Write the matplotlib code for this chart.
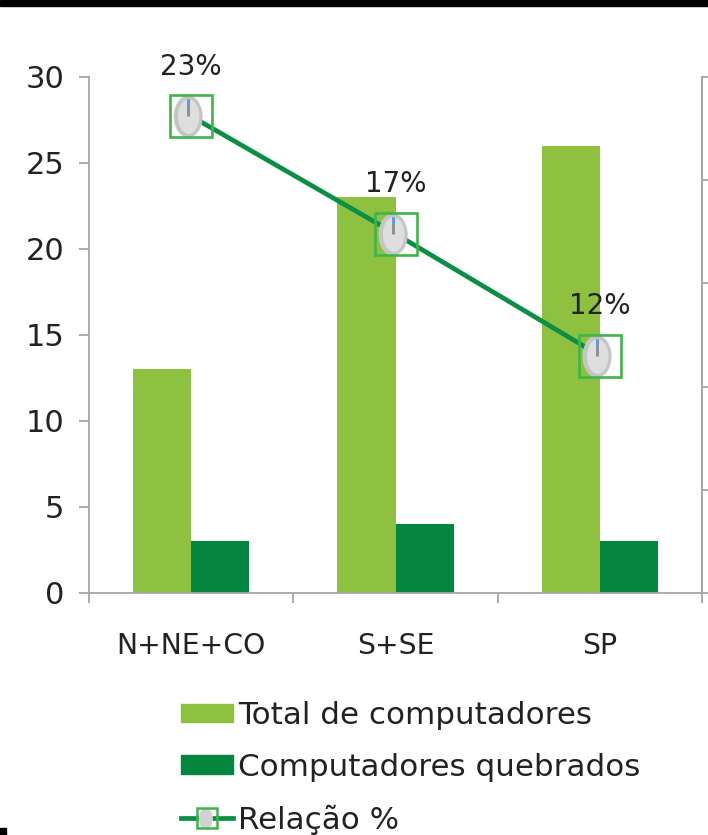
import matplotlib
matplotlib.use("Agg")
import matplotlib.pyplot as plt
import numpy as np
from matplotlib.lines import Line2D
from matplotlib.patches import Patch, Rectangle
from matplotlib.path import Path
from matplotlib.transforms import Affine2D
from matplotlib.legend_handler import HandlerTuple

plt.rcParams['font.family'] = ['DejaVu Sans']

categories = ["N+NE+CO", "S+SE", "SP"]
total = [13, 23, 26]
broken = [3, 4, 3]
ratio = [0.231, 0.174, 0.115]
ratio_labels = ["23%", "17%", "12%"]
series_names = ["Total de computadores", "Computadores quebrados", "Relação %"]
y_ticks = [0, 5, 10, 15, 20, 25, 30]
y2_ticks = [0, 0.05, 0.10, 0.15, 0.20, 0.25]

W, H = 708, 835
fig = plt.figure(figsize=(W/100, H/100), dpi=100)
L, R, T, B = 89, 702, 77, 593
ax = fig.add_axes([L/W, 1-B/H, (R-L)/W, (B-T)/H])
ax.set_xlim(-0.5, 2.5)
ax.set_ylim(0, 30)
x = np.arange(3)
bw = 58/204.33
LIGHT, DARK, LINE, BOX = "#8DC13F", "#03873F", "#0A8F45", "#3DB54A"
GREY = "#A6A6A6"
TXT = "#222222"
ax.bar(x-bw/2, total, bw, color=LIGHT, zorder=2)
ax.bar(x+bw/2, broken, bw, color=DARK, zorder=2)

ax.spines["top"].set_visible(False)
for s in ("left", "right", "bottom"):
    ax.spines[s].set_color(GREY)
    ax.spines[s].set_linewidth(1.3)
ax.set_xticks([-0.5, 0.5, 1.5, 2.5], minor=False)
ax.set_xticklabels([])
ax.set_xticks(x, categories, minor=True)
ax.tick_params(axis='x', which='major', length=7.5, color=GREY, width=1.3)
ax.tick_params(axis='x', which='minor', length=0, labelsize=20.3, pad=28, labelcolor=TXT)
ax.set_yticks(y_ticks)
ax.tick_params(axis='y', length=7, color=GREY, width=1.3, labelsize=22, pad=11, labelcolor=TXT)

ax2 = ax.twinx()
ax2.set_ylim(0, 0.25)
ax2.set_yticks(y2_ticks)
ax2.set_yticklabels([])
ax2.tick_params(axis='y', direction='out', length=5, color=GREY, width=1.3)
for s in ax2.spines.values():
    s.set_visible(False)
ax2.spines['right'].set_visible(True)
ax2.spines['right'].set_color(GREY)
ax2.spines['right'].set_linewidth(1.3)

dx = -0.16
ell = Path.unit_circle().transformed(Affine2D().scale(0.68, 1.0).translate(dx, 0))
ell2 = Path.unit_circle().transformed(Affine2D().scale(0.62, 1.0).translate(dx, 0))
stripe = Path([(dx/0.8, 0.0), (dx/0.8, 1.0)])
blue = Path([(dx/0.8, 0.62), (dx/0.8, 1.0)])

ax2.plot(x, ratio, color=LINE, lw=3.4, solid_capstyle='round', zorder=5)
ax2.plot(x, ratio, ls='none', marker=ell, ms=30, mfc="#C4C4C4", mec="#D0D0D0", mew=0.5, zorder=6)
ax2.plot(x, ratio, ls='none', marker=ell2, ms=25, mfc="#DEDEDE", mec="none", zorder=6)
ax2.plot(x, ratio, ls='none', marker=stripe, ms=24, mfc="none", mec="#8A8A8A", mew=2.0, zorder=6)
ax2.plot(x, ratio, ls='none', marker=blue, ms=24, mfc="none", mec="#5B9BE0", mew=2.0, zorder=6)
ax2.plot(x, ratio, ls='none', marker='s', ms=30.5, mfc='none', mec=BOX, mew=1.9, zorder=7)
for xi, yi, lab in zip(x, ratio, ratio_labels):
    ax2.annotate(lab, (xi, yi), xytext=(0, 25.5), textcoords='offset points',
                 ha='center', va='bottom', fontsize=20, color=TXT, zorder=8)

# thin black strip at the top and a small black square at the bottom-left of the slide
fig.add_artist(Rectangle((0, 1-6/H), 1, 6/H, transform=fig.transFigure, color="black"))
fig.add_artist(Rectangle((0, 0), 6/W, 7/H, transform=fig.transFigure, color="black"))

h1 = Patch(color=LIGHT)
h2 = Patch(color=DARK)
h3 = (Line2D([], [], color=LINE, lw=3.4),
      Line2D([], [], ls='none', marker=ell, ms=15, mfc="#D2D2D2", mec="none"),
      Line2D([], [], ls='none', marker='s', ms=14.5, mfc='none', mec=BOX, mew=1.8))
fig.legend([h1, h2, h3], series_names, handler_map={tuple: HandlerTuple(ndivide=1, pad=0)},
           loc='upper left', bbox_to_anchor=(181/W, 1-701/H), frameon=False,
           fontsize=22.3, handlelength=1.68, handleheight=0.55, handletextpad=0.16,
           labelspacing=0.73, labelcolor=TXT, borderpad=0, borderaxespad=0)
fig.savefig("out.png", dpi=100)
